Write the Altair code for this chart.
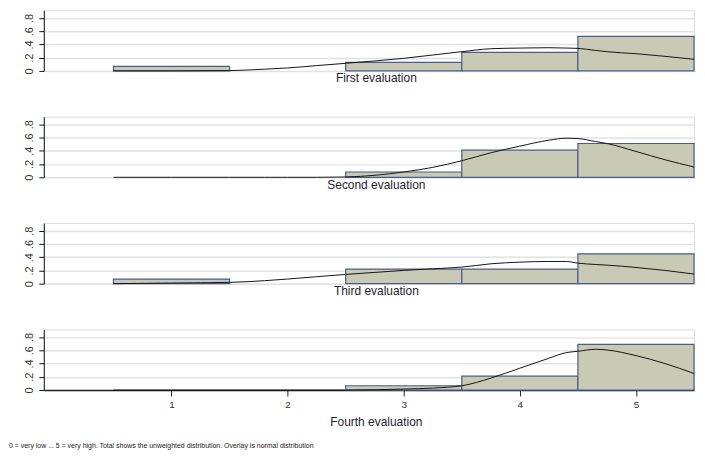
import altair as alt
import pandas as pd

categories = [1, 2, 3, 4, 5]
panel_titles = ["First evaluation", "Second evaluation", "Third evaluation", "Fourth evaluation"]

first_vals = [0.07, 0.0, 0.13, 0.28, 0.52]
second_vals = [0.0, 0.0, 0.08, 0.41, 0.51]
third_vals = [0.07, 0.0, 0.22, 0.22, 0.45]
fourth_vals = [0.0, 0.0, 0.065, 0.21, 0.69]

curve_x = [0.5, 1.0, 1.5, 1.8, 2.0, 2.25, 2.5, 2.75, 3.0, 3.25, 3.5, 3.75,
           4.0, 4.25, 4.4, 4.5, 4.65, 4.75, 5.0, 5.25, 5.5]
first_curve = [0.0, 0.0, 0.005, 0.026, 0.045, 0.08, 0.115, 0.15, 0.19, 0.24, 0.29, 0.335,
               0.345, 0.35, 0.345, 0.34, 0.31, 0.29, 0.26, 0.22, 0.175]
second_curve = [0.0, 0.0, 0.0, 0.0, 0.0, 0.0, 0.005, 0.03, 0.08, 0.15, 0.25, 0.37,
                0.47, 0.56, 0.59, 0.585, 0.54, 0.51, 0.39, 0.265, 0.155]
third_curve = [0.0, 0.01, 0.02, 0.045, 0.07, 0.105, 0.14, 0.17, 0.2, 0.225, 0.25, 0.3,
               0.325, 0.335, 0.335, 0.31, 0.29, 0.28, 0.245, 0.2, 0.145]
fourth_curve = [0.0, 0.0, 0.0, 0.0, 0.0, 0.0, 0.0, 0.005, 0.015, 0.03, 0.065, 0.18,
                0.33, 0.48, 0.565, 0.585, 0.615, 0.605, 0.52, 0.40, 0.25]

x_ticks = [1, 2, 3, 4, 5]
y_ticks = [0.0, 0.2, 0.4, 0.6, 0.8]
footnote = ["0 = very low ... 5 = very high. Total shows the unweighted distribution. Overlay is normal distribution"]

BAR_FILL = "#c9cab6"
BAR_STROKE = "#4a5d8a"
FONT = "Liberation Sans"
PLOT_W = 654


def make_yaxis():
    return alt.Axis(values=y_ticks, title=None, tickCount=5,
                    labelExpr="datum.value == 0 ? '0' : '.' + round(datum.value * 10)",
                    labelAngle=270, labelAlign="center", labelBaseline="bottom",
                    labelOverlap=False, labelBound=False, labelFlush=False,
                    labelFont=FONT, labelFontSize=11, labelColor="#333333", labelPadding=4,
                    tickSize=5, tickColor="#111111", domainColor="#111111",
                    gridColor="#e2e2e2", gridWidth=1.5)


def panel(title, vals, curve, last):
    bars_df = pd.DataFrame({"cat": categories, "share": vals})
    bars_df = bars_df[bars_df["share"] > 0]
    curve_df = pd.DataFrame({"x": curve_x, "y": curve})

    xscale = alt.Scale(domain=[-0.1, 5.5], nice=False, zero=False)
    yscale = alt.Scale(domain=[0, 0.915], nice=False)

    common_title = dict(title=title, titleFont=FONT, titleFontSize=12, titleFontWeight="normal",
                        titleColor="#1e1e2e", titleX=334, titleAlign="center", grid=False)
    if last:
        xaxis = alt.Axis(values=x_ticks, format="d", domainColor="#222222", domainWidth=1.5,
                         tickColor="#222222", tickSize=6, labelFont=FONT, labelFontSize=10,
                         labelColor="#333333", labelPadding=4, labelOverlap=False,
                         titlePadding=7, **common_title)
    else:
        xaxis = alt.Axis(labels=False, ticks=False, domain=False, titlePadding=2, **common_title)

    bars = alt.Chart(bars_df).transform_calculate(
        lo="datum.cat - 0.5", hi="datum.cat + 0.5"
    ).mark_rect(fill=BAR_FILL, stroke=BAR_STROKE, strokeWidth=1.2).encode(
        x=alt.X("lo:Q", scale=xscale, axis=xaxis),
        x2="hi:Q",
        y=alt.Y("share:Q", scale=yscale, axis=make_yaxis()),
        y2=alt.datum(0),
    )
    line = alt.Chart(curve_df).mark_line(color="#151515", strokeWidth=1, interpolate="monotone").encode(
        x=alt.X("x:Q", scale=xscale, axis=xaxis),
        y=alt.Y("y:Q", scale=yscale, axis=make_yaxis()),
    )
    layers = [bars, line]
    if last:
        note = alt.Chart(pd.DataFrame({"t": footnote})).mark_text(
            align="left", baseline="middle", fontSize=7, font=FONT, color="#222222"
        ).encode(text="t:N", x=alt.value(-35), y=alt.value(117.5))
        layers.append(note)
    return alt.layer(*layers).properties(width=PLOT_W, height=61)


panels = [
    panel(panel_titles[0], first_vals, first_curve, False),
    panel(panel_titles[1], second_vals, second_curve, False),
    panel(panel_titles[2], third_vals, third_curve, False),
    panel(panel_titles[3], fourth_vals, fourth_curve, True),
]

chart = alt.vconcat(*panels, spacing=46, bounds="flush").properties(
    padding={"left": 0, "top": 0, "right": 0, "bottom": 0}
).configure_view(stroke=None).configure(background="white")

chart.save("out.html", embed_options={"renderer": "svg", "actions": False})
